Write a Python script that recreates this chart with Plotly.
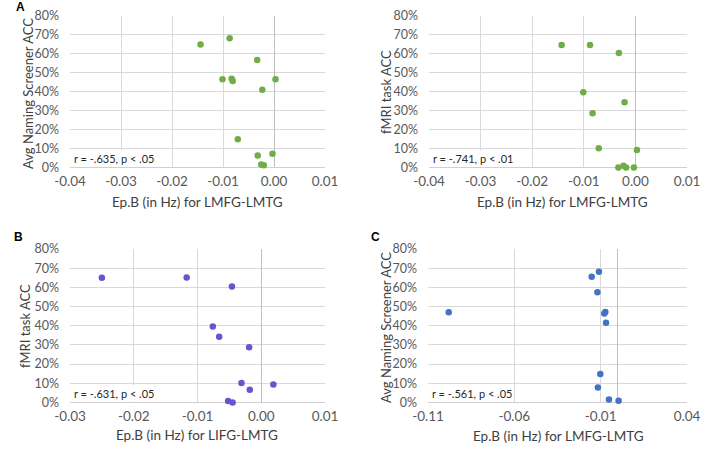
import plotly.graph_objects as go

# ---------------- data ----------------
# Panel A (left): Avg Naming Screener ACC vs Ep.B LMFG-LMTG
a1_x = [-0.0144, -0.0087, -0.0033, -0.0101, -0.0083, -0.0081, 0.0003, -0.0023,
        -0.0071, -0.0032, -0.0003, -0.0025, -0.0020]
a1_y = [0.649, 0.682, 0.568, 0.466, 0.469, 0.457, 0.466, 0.410,
        0.149, 0.063, 0.072, 0.016, 0.012]
# Panel A (right): fMRI task ACC vs Ep.B LMFG-LMTG
a2_x = [-0.0143, -0.0088, -0.0032, -0.0101, -0.0021, -0.0083, -0.0071, 0.0003,
        -0.0033, -0.0023, -0.0018, -0.0003]
a2_y = [0.647, 0.647, 0.604, 0.397, 0.344, 0.286, 0.102, 0.093,
        0.0, 0.009, 0.0, 0.0]
# Panel B: fMRI task ACC vs Ep.B LIFG-LMTG
b_x = [-0.0250, -0.0117, -0.0046, -0.0076, -0.0066, -0.0019, -0.0031, 0.0019,
       -0.0018, -0.0052, -0.0045]
b_y = [0.650, 0.651, 0.605, 0.396, 0.343, 0.288, 0.101, 0.094,
       0.066, 0.008, 0.0]
# Panel C: Avg Naming Screener ACC vs Ep.B LMFG-LMTG
c_x = [-0.0110, -0.0152, -0.0119, -0.0980, -0.0073, -0.0079, -0.0069, -0.0102,
       -0.0116, -0.0052, 0.0004]
c_y = [0.682, 0.655, 0.574, 0.470, 0.472, 0.464, 0.415, 0.149,
       0.078, 0.016, 0.009]

x_ticks_a = [-0.04, -0.03, -0.02, -0.01, 0.00, 0.01]
x_ticktext_a = ["-0.04", "-0.03", "-0.02", "-0.01", "0.00", "0.01"]
x_ticks_b = [-0.03, -0.02, -0.01, 0.00, 0.01]
x_ticktext_b = ["-0.03", "-0.02", "-0.01", "0.00", "0.01"]
x_ticks_c = [-0.11, -0.06, -0.01, 0.04]
x_ticktext_c = ["-0.11", "-0.06", "-0.01", "0.04"]
y_ticks = [0.0, 0.1, 0.2, 0.3, 0.4, 0.5, 0.6, 0.7, 0.8]
y_ticktext = ["0%", "10%", "20%", "30%", "40%", "50%", "60%", "70%", "80%"]

stats = ["r = -.635, p < .05", "r = -.741, p < .01", "r = -.631, p < .05", "r = -.561, p < .05"]
x_titles = ["Ep.B (in Hz) for LMFG-LMTG", "Ep.B (in Hz) for LMFG-LMTG",
            "Ep.B (in Hz) for LIFG-LMTG", "Ep.B (in Hz) for LMFG-LMTG"]
y_titles = ["Avg Naming Screener ACC", "fMRI task ACC", "fMRI task ACC", "Avg Naming Screener ACC"]
panel_letters = ["A", "B", "C"]

GREEN = "#70AD47"
PURPLE = "#6B52D3"
BLUE = "#4472C4"
FONT = "Lato"
GRID = "#D9D9D9"
W, H = 708, 449

fig = go.Figure()

series = [(a1_x, a1_y, GREEN), (a2_x, a2_y, GREEN), (b_x, b_y, PURPLE), (c_x, c_y, BLUE)]
for i, (xs, ys, col) in enumerate(series):
    sfx = "" if i == 0 else str(i + 1)
    fig.add_trace(go.Scatter(x=xs, y=ys, mode="markers", xaxis="x" + sfx, yaxis="y" + sfx,
                             marker=dict(color=col, size=6.5), cliponaxis=False,
                             showlegend=False, hoverinfo="skip"))

# plot-area pixel boxes (left, right, top, bottom)
boxes = [(70, 325, 16, 167.5), (429, 687, 16, 167.5), (70, 325, 249, 402.5), (428, 687, 249, 402.5)]
xranges = [[-0.04, 0.01], [-0.04, 0.01], [-0.03, 0.01], [-0.11, 0.04]]
xtv = [x_ticks_a, x_ticks_a, x_ticks_b, x_ticks_c]
xtt = [x_ticktext_a, x_ticktext_a, x_ticktext_b, x_ticktext_c]
# title centers in pixels
xtitle_pos = [(197, 202), (562, 202), (197, 435), (558, 436)]
ytitle_pos = [(28, 94), (386, 92), (25, 326), (386, 328)]

layout = dict(width=W, height=H, margin=dict(l=0, r=0, t=0, b=0),
              paper_bgcolor="white", plot_bgcolor="white",
              font=dict(family=FONT, color="#595959"))
annotations = []
for i in range(4):
    sfx = "" if i == 0 else str(i + 1)
    l, r, t, b = boxes[i]
    layout["xaxis" + sfx] = dict(
        domain=[l / W, r / W], range=xranges[i], anchor="y" + sfx, automargin=False,
        tickvals=xtv[i], ticktext=xtt[i], showgrid=True, gridcolor=GRID, gridwidth=1,
        zeroline=True, zerolinecolor="#BFBFBF", zerolinewidth=1,
        showline=False, ticks="", ticklabelstandoff=4,
        tickfont=dict(size=13.5, family=FONT, color="#595959"),
        fixedrange=True)
    layout["yaxis" + sfx] = dict(
        domain=[1 - b / H, 1 - t / H], range=[0, 0.8], anchor="x" + sfx, automargin=False,
        tickvals=y_ticks, ticktext=y_ticktext, showgrid=True, gridcolor=GRID, gridwidth=1,
        zeroline=True, zerolinecolor="#D0D0D0", zerolinewidth=1,
        showline=False, ticks="", ticklabelstandoff=10,
        tickfont=dict(size=12.5, family=FONT, color="#595959"),
        fixedrange=True)
    xt, yt = xtitle_pos[i]
    annotations.append(dict(text=x_titles[i], xref="paper", yref="paper", x=xt / W, y=1 - yt / H,
                            xanchor="center", yanchor="middle", showarrow=False,
                            font=dict(size=13.5, family=FONT, color="#404040")))
    xt, yt = ytitle_pos[i]
    annotations.append(dict(text=y_titles[i], xref="paper", yref="paper", x=xt / W, y=1 - yt / H,
                            xanchor="center", yanchor="middle", showarrow=False, textangle=-90,
                            font=dict(size=13, family=FONT, color="#404040")))
    annotations.append(dict(text=stats[i], xref="x" + sfx + " domain", yref="y" + sfx + " domain",
                            x=0.008, y=0.005, xanchor="left", yanchor="bottom", showarrow=False,
                            bgcolor="white", borderpad=1,
                            font=dict(size=11, family=FONT, color="#262626")))

letter_pos = [(20, 7), (18, 237), (375, 237)]
for letter, (lx, ly) in zip(panel_letters, letter_pos):
    annotations.append(dict(text="<b>" + letter + "</b>", xref="paper", yref="paper",
                            x=lx / W, y=1 - ly / H,
                            xanchor="center", yanchor="middle", showarrow=False,
                            font=dict(size=12, family="Liberation Sans", color="black")))
layout["annotations"] = annotations

fig.update_layout(**layout)
fig.write_html("out.html", config={"displayModeBar": False, "staticPlot": True},
               post_script="document.body.style.margin='0';document.body.style.overflow='hidden';")
